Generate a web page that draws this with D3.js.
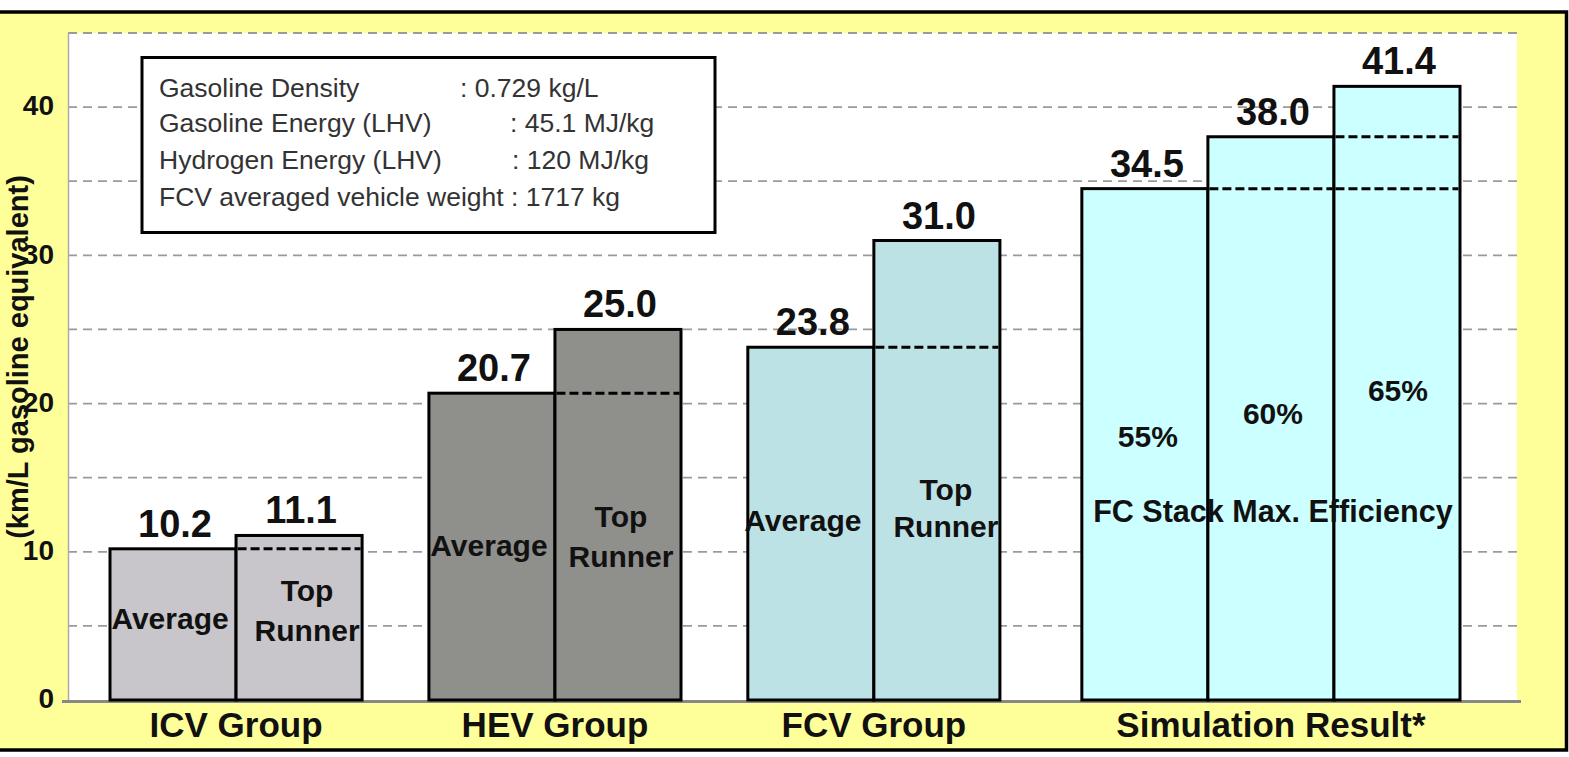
<!DOCTYPE html>
<html><head><meta charset="utf-8">
<script src="https://cdn.jsdelivr.net/npm/d3@7/dist/d3.min.js"></script>
<style>html,body{margin:0;padding:0;background:#fff;}svg{display:block;font-family:"Liberation Sans",Arial,sans-serif;}</style>
</head><body>
<svg id="chart" width="1569" height="757"></svg>
<script>
// ---- data ----
const groups = ["ICV Group", "HEV Group", "FCV Group", "Simulation Result*"];
const barGroup = [0, 0, 1, 1, 2, 2, 3, 3, 3];
const barValues = [10.2, 11.1, 20.7, 25.0, 23.8, 31.0, 34.5, 38.0, 41.4];
const valueLabels = ["10.2", "11.1", "20.7", "25.0", "23.8", "31.0", "34.5", "38.0", "41.4"];
const refLines = [[], [10.2], [], [20.7], [], [23.8], [], [34.5], [34.5, 38.0]];
const innerLabels = [["Average"], ["Top", "Runner"], ["Average"], ["Top", "Runner"], ["Average"], ["Top", "Runner"], ["55%"], ["60%"], ["65%"]];
const simCaption = "FC Stack Max. Efficiency";
const yTicks = [0, 10, 20, 30, 40];
const gridValues = [5, 10, 15, 20, 25, 30, 35, 40, 45];
const yTitle = "(km/L gasoline equivalent)";
const legendNames = ["Gasoline Density", "Gasoline Energy (LHV)", "Hydrogen Energy (LHV)", "FCV averaged vehicle weight : 1717 kg"];
const legendValues = [": 0.729 kg/L", ": 45.1 MJ/kg", ": 120 MJ/kg", ""];

// ---- layout / style (not data) ----
const groupColors = ["#c8c6ca", "#8f8f8c", "#bde2e5", "#ccffff"];
const groupGaps = [0.53, 0.53, 0.65];
const innerLabelAt = [[4.8], [6.7, 4.0], [9.7], [11.7, 9.0], [11.4], [13.5, 11.0], [17.05], [18.6], [20.15]];
const innerLabelDx = [-3, 8, -3, 3, -8, 9, 3, 2, 1];
const simCaptionAt = 12.0;
const legendValueX = [460, 510, 512, 0];
const legendBase = [96.5, 132, 169, 205.5];

const svg = d3.select("#chart");
const y = d3.scaleLinear().domain([0, 45]).range([700, 33]);

// slot positions
const slots = [];
let acc = 0;
barValues.forEach((v, i) => {
  if (i > 0 && barGroup[i] !== barGroup[i - 1]) acc += groupGaps[barGroup[i] - 1];
  slots.push(i + acc);
});
const totalUnits = barValues.length + acc;
const x = d3.scaleLinear().domain([0, totalUnits]).range([110, 1460]);

// frame
svg.append("rect").attr("x", -2).attr("y", 12).attr("width", 1568.5).attr("height", 738)
  .attr("fill", "#ffff99").attr("stroke", "#000").attr("stroke-width", 3.5);
// plot area
svg.append("rect").attr("x", 68).attr("y", y(45)).attr("width", 1517 - 68).attr("height", y(0) - y(45))
  .attr("fill", "#fff");

// gridlines
svg.append("g").selectAll("line").data(gridValues).join("line")
  .attr("x1", 68).attr("x2", 1517).attr("y1", d => y(d)).attr("y2", d => y(d))
  .attr("stroke", "#9a9a9a").attr("stroke-width", 1.8).attr("stroke-dasharray", "9,6");

// left axis line
svg.append("line").attr("x1", 68.5).attr("x2", 68.5).attr("y1", y(45)).attr("y2", y(0))
  .attr("stroke", "#aaa").attr("stroke-width", 1.5);

// y axis ticks via d3 axis
const yAxis = d3.axisLeft(y).tickValues(yTicks).tickSize(0).tickPadding(0).tickFormat(d3.format("d"));
const gy = svg.append("g").attr("transform", "translate(54,0)").call(yAxis);
gy.select(".domain").remove();
gy.selectAll("text").attr("font-size", 28).attr("font-weight", "bold").attr("fill", "#111")
  .attr("font-family", "Liberation Sans, Arial, sans-serif").attr("dy", "0.28em");

// y title
svg.append("text").attr("transform", "translate(28,357) rotate(-90)")
  .attr("text-anchor", "middle").attr("font-size", 29).attr("font-weight", "bold").attr("fill", "#111")
  .text(yTitle);

// x axis line
svg.append("line").attr("x1", 62).attr("x2", 1521).attr("y1", 701.5).attr("y2", 701.5)
  .attr("stroke", "#888").attr("stroke-width", 3);

// legend box
svg.append("rect").attr("x", 142).attr("y", 57.5).attr("width", 573).attr("height", 175)
  .attr("fill", "#fff").attr("stroke", "#000").attr("stroke-width", 3);
legendNames.forEach((t, i) => {
  svg.append("text").attr("x", 159).attr("y", legendBase[i]).attr("font-size", 26.5).attr("fill", "#333").text(t);
  if (legendValues[i]) svg.append("text").attr("x", legendValueX[i]).attr("y", legendBase[i]).attr("font-size", 26.5).attr("fill", "#333").text(legendValues[i]);
});

// bars
const bars = svg.append("g");
barValues.forEach((v, i) => {
  const x0 = x(slots[i]), x1 = x(slots[i] + 1);
  bars.append("rect").attr("x", x0).attr("y", y(v)).attr("width", x1 - x0).attr("height", y(0) - y(v))
    .attr("fill", groupColors[barGroup[i]]).attr("stroke", "#000").attr("stroke-width", 3);
});
// reference dashed lines
barValues.forEach((v, i) => {
  const x0 = x(slots[i]), x1 = x(slots[i] + 1);
  refLines[i].forEach(r => {
    bars.append("line").attr("x1", x0 + 1.5).attr("x2", x1 - 1.5).attr("y1", y(r)).attr("y2", y(r))
      .attr("stroke", "#000").attr("stroke-width", 3).attr("stroke-dasharray", "9,4");
  });
});
// value labels
barValues.forEach((v, i) => {
  const cx = (x(slots[i]) + x(slots[i] + 1)) / 2;
  svg.append("text").attr("x", cx + 2).attr("y", y(v) - 12).attr("text-anchor", "middle")
    .attr("font-size", 38).attr("font-weight", "bold").attr("fill", "#111").text(valueLabels[i]);
});
// inner labels
innerLabels.forEach((lines, i) => {
  const cx = (x(slots[i]) + x(slots[i] + 1)) / 2 + innerLabelDx[i];
  lines.forEach((t, j) => {
    svg.append("text").attr("x", cx).attr("y", y(innerLabelAt[i][j])).attr("text-anchor", "middle")
      .attr("font-size", 30).attr("font-weight", "bold").attr("fill", "#111").text(t);
  });
});
// sim caption
const simIdx = barGroup.map((g, i) => g === 3 ? i : -1).filter(i => i >= 0);
const simCx = (x(slots[simIdx[0]]) + x(slots[simIdx[simIdx.length - 1]] + 1)) / 2;
svg.append("text").attr("x", simCx + 2).attr("y", y(simCaptionAt)).attr("text-anchor", "middle")
  .attr("font-size", 30.5).attr("font-weight", "bold").attr("fill", "#111").text(simCaption);

// category labels
groups.forEach((g, gi) => {
  const idx = barGroup.map((b, i) => b === gi ? i : -1).filter(i => i >= 0);
  const cx = (x(slots[idx[0]]) + x(slots[idx[idx.length - 1]] + 1)) / 2;
  svg.append("text").attr("x", cx).attr("y", 737).attr("text-anchor", "middle")
    .attr("font-size", 35).attr("font-weight", "bold").attr("fill", "#111").text(g);
});
</script>
</body></html>
